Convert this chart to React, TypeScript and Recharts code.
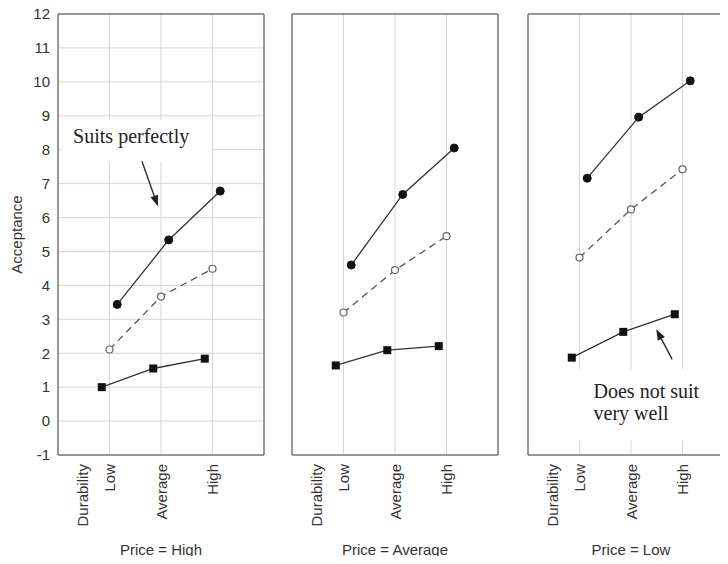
import React from "react";
import {
  LineChart,
  Line,
  XAxis,
  YAxis,
  CartesianGrid,
  ReferenceArea,
  ReferenceLine,
} from "recharts";

const LEVELS = ["Low", "Average", "High"];
const LEVEL_POS = [1, 2, 3];
const Y_TICKS = [-1, 0, 1, 2, 3, 4, 5, 6, 7, 8, 9, 10, 11, 12];
const PANEL_TITLES = ["Price = High", "Price = Average", "Price = Low"];

// acceptance per durability level (Low, Average, High)
const highPerfect = [3.44, 5.34, 6.78];
const highMiddle = [2.11, 3.67, 4.49];
const highPoor = [1.0, 1.55, 1.84];

const avgPerfect = [4.6, 6.68, 8.05];
const avgMiddle = [3.2, 4.45, 5.45];
const avgPoor = [1.64, 2.09, 2.21];

const lowPerfect = [7.16, 8.96, 10.03];
const lowMiddle = [4.82, 6.24, 7.42];
const lowPoor = [1.87, 2.63, 3.15];

// small horizontal dodge so the three series don't sit on top of each other
const DODGE_PERFECT = 0.15;
const DODGE_MIDDLE = 0;
const DODGE_POOR = -0.15;

const SANS = '"Liberation Sans", Arial, sans-serif';
const SERIF = '"Liberation Serif", "Times New Roman", serif';
const TEXT = "#333";
const FRAME = "#444";

const toPoints = (values: number[], dodge: number) =>
  values.map((v, i) => ({ x: LEVEL_POS[i] + dodge, v }));

const LevelTick = ({ x, y, payload }: any) => (
  <text
    x={x}
    y={y}
    transform={`rotate(-90 ${x} ${y})`}
    textAnchor="end"
    dominantBaseline="central"
    fontSize={15}
    fontFamily={SANS}
    fill={TEXT}
  >
    {LEVELS[payload.value - 1]}
  </text>
);

const SquareDot = (props: any) => {
  const { cx, cy, key } = props;
  if (cx == null || cy == null) return <g key={key} />;
  return <rect key={key} x={cx - 4} y={cy - 4} width={8} height={8} fill="#111" />;
};

const Arrow = (props: any) => {
  const { x1, y1, x2, y2 } = props;
  const ang = Math.atan2(y2 - y1, x2 - x1);
  const len = 11;
  const half = 4;
  const bx = x2 - len * Math.cos(ang);
  const by = y2 - len * Math.sin(ang);
  const px = -Math.sin(ang) * half;
  const py = Math.cos(ang) * half;
  return (
    <g>
      <line x1={x1} y1={y1} x2={bx} y2={by} stroke="#222" strokeWidth={1.3} />
      <polygon points={`${x2},${y2} ${bx + px},${by + py} ${bx - px},${by - py}`} fill="#222" />
    </g>
  );
};

function Panel({
  left,
  title,
  perfect,
  middle,
  poor,
  showY,
  note,
}: {
  left: number;
  title: string;
  perfect: number[];
  middle: number[];
  poor: number[];
  showY: boolean;
  note?: "perfect" | "poor";
}) {
  const width = showY ? 270 : 220;
  return (
    <div style={{ position: "absolute", left, top: 0 }}>
      <LineChart
        width={width}
        height={564}
        margin={{ top: 14, right: showY ? 6 : 8, bottom: 0, left: showY ? 0 : 6 }}
      >
        <CartesianGrid stroke="#d6d6d6" />
        <XAxis
          type="number"
          dataKey="x"
          domain={[0, 4]}
          ticks={LEVEL_POS}
          allowDataOverflow
          height={109}
          tickSize={0}
          tickMargin={9}
          tickLine={false}
          axisLine={{ stroke: FRAME }}
          tick={<LevelTick />}
          label={(p: any) => {
            const vb = p.viewBox;
            const dx = vb.x + 24;
            const dy = vb.y + 9;
            return (
              <g fontFamily={SANS} fontSize={15} fill={TEXT}>
                <text
                  x={dx}
                  y={dy}
                  transform={`rotate(-90 ${dx} ${dy})`}
                  textAnchor="end"
                  dominantBaseline="central"
                >
                  Durability
                </text>
                <text x={vb.x + vb.width / 2} y={vb.y + 100} textAnchor="middle">
                  {title}
                </text>
              </g>
            );
          }}
        />
        <XAxis
          xAxisId="top"
          orientation="top"
          mirror
          type="number"
          domain={[0, 4]}
          ticks={LEVEL_POS}
          tick={false}
          tickSize={3}
          stroke={FRAME}
        />
        {showY ? (
          <YAxis
            type="number"
            domain={[-1, 12]}
            ticks={Y_TICKS}
            interval={0}
            width={58}
            tickSize={0}
            tickMargin={8}
            tickLine={false}
            axisLine={{ stroke: FRAME }}
            tick={{ fontSize: 15, fill: TEXT, fontFamily: SANS }}
            label={(p: any) => {
              const vb = p.viewBox;
              const cx = vb.x + 16;
              const cy = vb.y + vb.height / 2;
              return (
                <text
                  x={cx}
                  y={cy}
                  transform={`rotate(-90 ${cx} ${cy})`}
                  textAnchor="middle"
                  dominantBaseline="central"
                  fontSize={15}
                  fontFamily={SANS}
                  fill={TEXT}
                >
                  Acceptance
                </text>
              );
            }}
          />
        ) : (
          <YAxis
            type="number"
            domain={[-1, 12]}
            ticks={Y_TICKS}
            interval={0}
            mirror
            tick={false}
            tickSize={3}
            stroke={FRAME}
          />
        )}
        <YAxis
          yAxisId="right"
          orientation="right"
          mirror
          type="number"
          domain={[-1, 12]}
          ticks={Y_TICKS}
          interval={0}
          tick={false}
          tickSize={3}
          stroke={FRAME}
        />

        {note === "perfect" && (
          <ReferenceArea
            x1={0.08}
            x2={2.99}
            y1={7.63}
            y2={8.87}
            fill="#fff"
            fillOpacity={1}
            stroke="none"
            label={(p: any) => (
              <text
                x={p.viewBox.x + 11}
                y={p.viewBox.y + 23}
                fontSize={20}
                fontFamily={SERIF}
                fill="#222"
              >
                Suits perfectly
              </text>
            )}
          />
        )}
        {note === "perfect" && (
          <ReferenceLine
            segment={[
              { x: 1.63, y: 7.66 },
              { x: 1.94, y: 6.33 },
            ]}
            shape={<Arrow />}
          />
        )}
        {note === "poor" && (
          <ReferenceArea
            x1={0.03}
            x2={3.64}
            y1={-0.57}
            y2={1.53}
            fill="#fff"
            fillOpacity={1}
            stroke="none"
            label={(p: any) => (
              <text fontSize={20} fontFamily={SERIF} fill="#222">
                <tspan x={p.viewBox.x + 64} y={p.viewBox.y + 29}>
                  Does not suit
                </tspan>
                <tspan x={p.viewBox.x + 64} y={p.viewBox.y + 51}>
                  very well
                </tspan>
              </text>
            )}
          />
        )}
        {note === "poor" && (
          <ReferenceLine
            segment={[
              { x: 2.8, y: 1.82 },
              { x: 2.49, y: 2.71 },
            ]}
            shape={<Arrow />}
          />
        )}

        <Line
          data={toPoints(middle, DODGE_MIDDLE)}
          dataKey="v"
          stroke="#555"
          strokeWidth={1.3}
          strokeDasharray="7 5"
          dot={{ r: 3.5, fill: "#fff", stroke: "#666", strokeWidth: 1.2, strokeDasharray: "0" }}
          isAnimationActive={false}
        />
        <Line
          data={toPoints(poor, DODGE_POOR)}
          dataKey="v"
          stroke="#333"
          strokeWidth={1.3}
          dot={<SquareDot />}
          isAnimationActive={false}
        />
        <Line
          data={toPoints(perfect, DODGE_PERFECT)}
          dataKey="v"
          stroke="#333"
          strokeWidth={1.3}
          dot={{ r: 4, fill: "#111", stroke: "#111", strokeWidth: 1 }}
          isAnimationActive={false}
        />
      </LineChart>
    </div>
  );
}

export default function App() {
  return (
    <div
      style={{
        position: "relative",
        width: 728,
        height: 564,
        margin: -8,
        overflow: "hidden",
        background: "#fff",
      }}
    >
      <Panel left={0} title={PANEL_TITLES[0]} perfect={highPerfect} middle={highMiddle} poor={highPoor} showY note="perfect" />
      <Panel left={286} title={PANEL_TITLES[1]} perfect={avgPerfect} middle={avgMiddle} poor={avgPoor} showY={false} />
      <Panel left={522} title={PANEL_TITLES[2]} perfect={lowPerfect} middle={lowMiddle} poor={lowPoor} showY={false} note="poor" />
      <div
        style={{
          position: "absolute",
          left: 0,
          top: 560,
          width: 728,
          height: 4,
          background: "#eee",
          borderTop: "1px solid #c4c4c4",
        }}
      />
    </div>
  );
}
